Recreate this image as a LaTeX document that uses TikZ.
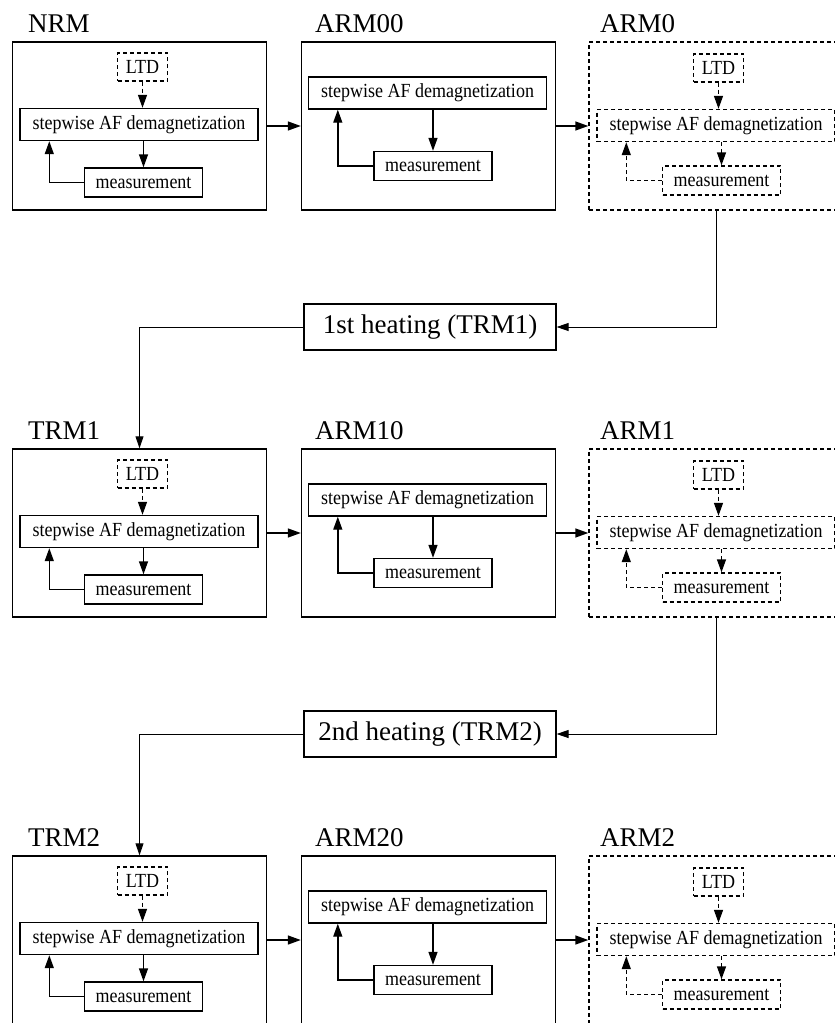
\documentclass[tikz,border=0pt]{standalone}
\usepackage{fontspec}
\setmainfont{Liberation Serif}
\newfontfamily\boxfont[FakeStretch=0.9]{Liberation Serif}
\usetikzlibrary{arrows.meta}
\tikzset{
    dashy/.style = {
        dash pattern=on 4pt off 3pt},
    panel/.style = {
        draw,
        line width=1.4pt,
        inner sep=0pt,
        minimum width=254pt,
        minimum height=168pt},
    dpanel/.style = {
        panel,
        dashy},
    stepbox/.style = {
        draw,
        line width=1.4pt,
        inner sep=0pt,
        minimum width=238pt,
        minimum height=32pt,
        font=\boxfont\fontsize{20}{22}\selectfont},
    measbox/.style = {
        stepbox,
        minimum width=118pt,
        minimum height=29pt},
    ltdbox/.style = {
        stepbox,
        dashy,
        minimum width=50pt,
        minimum height=28pt},
    title/.style = {
        anchor=base west,
        inner sep=0pt,
        font=\fontsize{27}{29}\selectfont},
    heatbox/.style = {
        draw,
        line width=1.2pt,
        inner sep=0pt,
        minimum width=252pt,
        minimum height=46pt,
        font=\fontsize{27}{29}\selectfont},
    flow/.style = {
        line width=1.4pt,
        -{Triangle[length=13pt,width=9pt]}},
    link/.style = {
        line width=0.9pt,
        -{Triangle[length=12pt,width=8pt]}}
}

\begin{document}
\begin{tikzpicture}[x=1pt, y=-1pt]

\useasboundingbox (0,0) rectangle (835,1023);

\foreach \r/\la/\lb/\lc in {0/NRM/ARM00/ARM0, 1/TRM1/ARM10/ARM1, 2/TRM2/ARM20/ARM2} {
\begin{scope}[yshift=-\r*407pt]
    % remanence with LTD
    \node [panel] (a\r) at (139.5,126) {};
    \node [title] at (28,32) {\la};
    \node [ltdbox] (al\r) at (142.5,67) {LTD};
    \node [stepbox] (as\r) at (139,124.5) {stepwise AF demagnetization};
    \node [measbox] (am\r) at (143.5,182.5) {measurement};
    \draw [flow, dashy] (al\r) -- (al\r |- as\r.north);
    \draw [flow] (as\r.south -| am\r.north) -- (am\r.north);
    \draw [flow] (am\r.west) -| ([xshift=30pt]as\r.south west);

    % ARM without LTD
    \node [panel] (b\r) at (428.5,126) {};
    \node [title] at (315,32) {\lb};
    \node [stepbox] (bs\r) at (427.5,93) {stepwise AF demagnetization};
    \node [measbox] (bm\r) at (433,166) {measurement};
    \draw [flow] (bs\r.south -| bm\r.north) -- (bm\r.north);
    \draw [flow] (bm\r.west) -| ([xshift=30pt]bs\r.south west);

    % ARM with LTD
    \node [dpanel] (c\r) at (716,126) {};
    \node [title] at (600,32) {\lc};
    \node [ltdbox] (cl\r) at (718.5,68) {LTD};
    \node [stepbox, dashy] (cs\r) at (716,125.5) {stepwise AF demagnetization};
    \node [measbox, dashy] (cm\r) at (721.5,180.5) {measurement};
    \draw [flow, dashy] (cl\r) -- (cl\r |- cs\r.north);
    \draw [flow, dashy] (cs\r.south -| cm\r.north) -- (cm\r.north);
    \draw [flow, dashy] (cm\r.west) -| ([xshift=30pt]cs\r.south west);

    \draw [flow] (a\r.east) -- (b\r.west);
    \draw [flow] (b\r.east) -- (c\r.west);
\end{scope}
}

\node [heatbox] (heat1) at (430,327) {1st heating (TRM1)};
\node [heatbox] (heat2) at (430,734) {2nd heating (TRM2)};

\draw [link] (c0.south) |- (heat1);
\draw [link] (heat1) -| (a1.north);
\draw [link] (c1.south) |- (heat2);
\draw [link] (heat2) -| (a2.north);

\end{tikzpicture}
\end{document}
